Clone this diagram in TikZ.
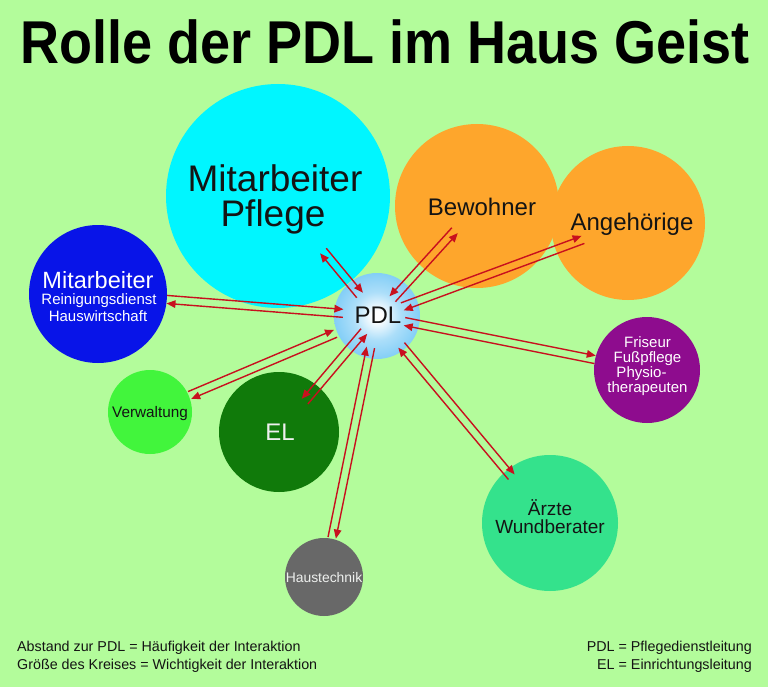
\documentclass[tikz,border=0pt]{standalone}
\usepackage{fontspec}
\setmainfont{Liberation Sans}
\usetikzlibrary{calc,arrows.meta}
\definecolor{bg}{RGB}{179,252,155}
\definecolor{cyanc}{RGB}{0,246,255}
\definecolor{orangec}{RGB}{254,166,44}
\definecolor{bluec}{RGB}{8,20,232}
\definecolor{verwc}{RGB}{66,245,60}
\definecolor{elc}{RGB}{16,122,10}
\definecolor{purplec}{RGB}{142,12,142}
\definecolor{aerztec}{RGB}{52,226,140}
\definecolor{grayc}{RGB}{104,104,104}
\definecolor{pdlb}{RGB}{105,196,245}
\definecolor{arrc}{RGB}{200,16,30}
\definecolor{ink}{RGB}{20,20,20}
\definecolor{light}{RGB}{238,240,238}
\pgfdeclareradialshading{pdlshade}{\pgfpoint{0bp}{0bp}}{color(0bp)=(white); color(3bp)=(white); color(14bp)=(pdlb!55!white); color(28bp)=(pdlb!90!white); color(36bp)=(pdlb); color(100bp)=(pdlb)}
\newcommand\fs[2]{\fontsize{#1}{#2}\selectfont}
% #1 pdl node, #2 target node, #3 distance from pdl centre, #4 distance from target centre, #5 side offset
\newcommand\twoway[5]{%
  \coordinate (#2-s) at ($(#1)!#3!(#2)$);
  \coordinate (#2-e) at ($(#2)!#4!(#1)$);
  \draw[conn] ($(#2-s)!#5!90:(#2-e)$) -- ($(#2-e)!#5!-90:(#2-s)$);
  \draw[conn] ($(#2-e)!#5!90:(#2-s)$) -- ($(#2-s)!#5!-90:(#2-e)$);
}
\tikzset{
  blob/.style={circle, inner sep=0pt, draw=none},
  conn/.style={draw=arrc, line width=1.4pt, -{Triangle[length=9pt,width=7.5pt]}},
  lbl/.style={anchor=base, inner sep=0pt},
}
\begin{document}
\begin{tikzpicture}[x=1pt,y=-1pt]
\useasboundingbox (0,0) rectangle (768,687);
\fill[bg] (0,0) rectangle (768,687);

\node[lbl, font=\bfseries\fs{54}{60}] (title) at (385,64) {\scalebox{1}[1.12]{Rolle der PDL im Haus Geist}};

% circles
\node[blob, fill=cyanc, minimum size=224pt] (pflege) at (278,196) {};
\node[blob, fill=orangec, minimum size=164pt] (bewohner) at (477,206) {};
\node[blob, fill=orangec, minimum size=154pt] (angeh) at (628,223) {};
\node[blob, fill=bluec, minimum size=138pt] (rein) at (98,294) {};
\node[blob, fill=verwc, minimum size=84pt] (verw) at (150,412) {};
\node[blob, fill=elc, minimum size=120pt] (el) at (279,432) {};
\node[blob, fill=purplec, minimum size=106pt] (friseur) at (647,370) {};
\node[blob, fill=aerztec, minimum size=136pt] (aerzte) at (550,523) {};
\node[blob, fill=grayc, minimum size=78pt] (haus) at (324,577) {};
\node[blob, shading=pdlshade, minimum size=86pt] (pdl) at (377,316) {};

% texts
\node[lbl, text=ink, font=\fs{37}{40}] (pflegeA) at (275,192) {Mitarbeiter};
\node[lbl, text=ink, font=\fs{37}{40}] (pflegeB) at (273,226) {Pflege};
\node[lbl, text=ink, font=\fs{24}{26}] (bewohnerT) at (482,215) {Bewohner};
\node[lbl, text=ink, font=\fs{24}{26}] (angehT) at (632,230) {Angehörige};
\node[lbl, text=ink, font=\fs{24}{26}] (pdlT) at (378,323) {PDL};
\node[lbl, text=white, font=\fs{23.5}{26}] (reinA) at (98,288) {Mitarbeiter};
\node[lbl, text=white, font=\fs{15}{16}] (reinB) at (99,304) {Reinigungsdienst};
\node[lbl, text=white, font=\fs{15}{16}] (reinC) at (98,321) {Hauswirtschaft};
\node[lbl, text=ink, font=\fs{15.3}{16}] (verwT) at (150,417) {Verwaltung};
\node[lbl, text=light, font=\fs{24}{26}] (elT) at (280,440) {EL};
\node[lbl, text=white, font=\fs{15}{15}] (friA) at (647.5,347) {Friseur};
\node[lbl, text=white, font=\fs{15}{15}] (friB) at (647.5,362) {Fußpflege};
\node[lbl, text=white, font=\fs{15}{15}] (friC) at (641.5,377) {Physio-};
\node[lbl, text=white, font=\fs{15}{15}] (friD) at (647.5,392) {therapeuten};
\node[lbl, text=ink, font=\fs{19}{20}] (aeA) at (550,515) {Ärzte};
\node[lbl, text=ink, font=\fs{19}{20}] (aeB) at (550,533) {Wundberater};
\node[lbl, text=light, font=\fs{13.9}{15}] (hausT) at (324,582) {Haustechnik};

% footer
\node[lbl, anchor=base west, text=ink, font=\fs{14.3}{16}] (legA) at (17,651) {Abstand zur PDL = Häufigkeit der Interaktion};
\node[lbl, anchor=base west, text=ink, font=\fs{14.3}{16}] (legB) at (17,669) {Größe des Kreises = Wichtigkeit der Interaktion};
\node[lbl, anchor=base east, text=ink, font=\fs{14.3}{16}] (legC) at (752,651) {PDL = Pflegedienstleitung};
\node[lbl, anchor=base east, text=ink, font=\fs{14.3}{16}] (legD) at (752,669) {EL = Einrichtungsleitung};

% connectors
\twoway{pdl}{pflege}{27pt}{71pt}{4pt}
\twoway{pdl}{bewohner}{23pt}{33pt}{-4pt}
\twoway{pdl}{angeh}{27pt}{48pt}{4pt}
\twoway{pdl}{friseur}{28pt}{53pt}{4pt}
\twoway{pdl}{aerzte}{38pt}{60pt}{4pt}
\twoway{pdl}{haus}{32pt}{40pt}{4pt}
\twoway{pdl}{el}{20pt}{40pt}{-4pt}
\twoway{pdl}{verw}{45pt}{43pt}{4pt}
\twoway{pdl}{rein}{34pt}{69pt}{4pt}
\end{tikzpicture}
\end{document}
